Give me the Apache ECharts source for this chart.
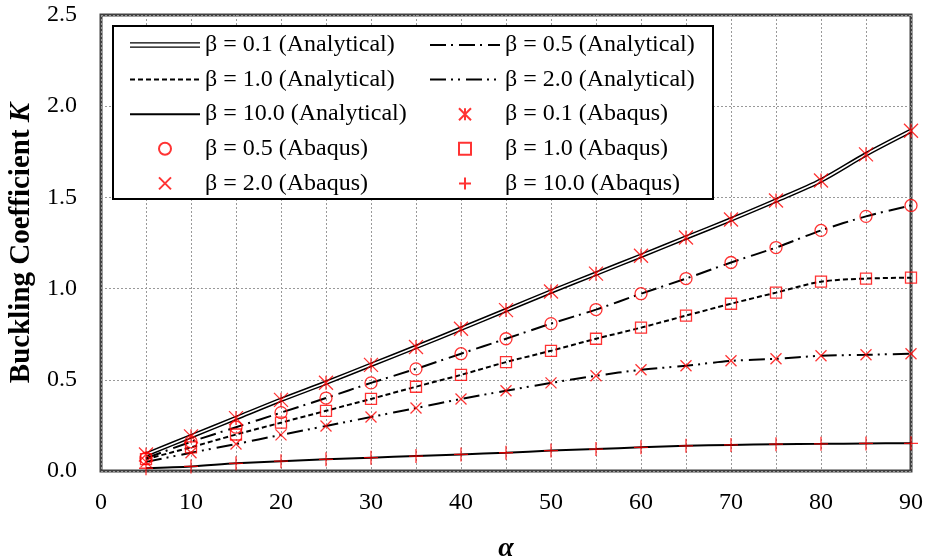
<!DOCTYPE html>
<html>
<head>
<meta charset="utf-8">
<script src="https://cdn.jsdelivr.net/npm/echarts@6/dist/echarts.min.js"></script>
<style>
  html, body { margin: 0; padding: 0; background: #fff; }
  #main { width: 925px; height: 560px; }
</style>
</head>
<body>
<div id="main"></div>
<script>
// α values (deg)
var alpha = [5, 10, 15, 20, 25, 30, 35, 40, 45, 50, 55, 60, 65, 70, 75, 80, 85, 90];

// buckling coefficient K
var k_b01  = [0.09, 0.19, 0.29, 0.39, 0.484, 0.582, 0.68, 0.78, 0.882, 0.984, 1.082, 1.18, 1.28, 1.379, 1.483, 1.593, 1.736, 1.865];
var k_b05  = [0.07, 0.16, 0.24, 0.32, 0.40, 0.483, 0.56, 0.643, 0.725, 0.808, 0.885, 0.972, 1.055, 1.143, 1.225, 1.319, 1.396, 1.456];
var k_b10  = [0.065, 0.13, 0.2, 0.265, 0.33, 0.395, 0.462, 0.527, 0.597, 0.659, 0.725, 0.786, 0.852, 0.917, 0.978, 1.038, 1.055, 1.06];
var k_b20  = [0.05, 0.10, 0.148, 0.198, 0.247, 0.296, 0.345, 0.395, 0.44, 0.483, 0.522, 0.555, 0.577, 0.604, 0.615, 0.632, 0.637, 0.643];
var k_b100 = [0.015, 0.025, 0.042, 0.054, 0.064, 0.073, 0.082, 0.091, 0.1, 0.112, 0.12, 0.13, 0.138, 0.143, 0.147, 0.149, 0.151, 0.152];

var yTicks = [0, 0.5, 1.0, 1.5, 2.0, 2.5];

var FONT = 'Liberation Serif';

function pts(arr) {
    return alpha.map(function (a, i) { return [a, arr[i]]; });
}

// marker shapes
var SYM_AST   = 'path://M0,0L10,10M10,0L0,10M5,0L5,10';
var SYM_CROSS = 'path://M0,0L10,10M10,0L0,10';
var SYM_PLUS  = 'path://M5,0L5,10M0,5L10,5';
var SYM_CIRC  = 'path://M10,5A5,5,0,1,1,0,5A5,5,0,1,1,10,5Z';
var SYM_RECT  = 'path://M0,0L10,0L10,10L0,10Z';
var ICON_DOUBLE = 'path://M0,0H70V1.4H0ZM0,4.2H70V5.6H0Z';

var DASH_05 = [16, 5, 2, 6];
var DASH_10 = [5, 3];
var DASH_20 = [16, 5, 2, 5, 2, 6];

function lineSeries(name, arr, width, type) {
    return {
        name: name, type: 'line', data: pts(arr), smooth: 0.3,
        symbol: 'none', color: '#000', z: 2,
        lineStyle: { color: '#000', width: width, type: type }
    };
}
function markSeries(name, arr, sym, size) {
    return {
        name: name, type: 'scatter', data: pts(arr), symbol: sym, symbolSize: size, z: 5,
        itemStyle: { color: 'transparent', borderColor: '#ff0000', borderWidth: 1.3 }
    };
}
// legend entry for a plain line (hide the dot ECharts puts in the middle)
function lineItem(name) {
    return { name: name, itemStyle: { opacity: 0 } };
}

var legendText = { fontFamily: FONT, fontSize: 24, color: '#000' };

var myChart = echarts.init(document.getElementById('main'));
var option = {
    animation: false,
    backgroundColor: '#fff',
    grid: {
        left: 101, right: 14, top: 15, bottom: 89, outerBoundsMode: 'none',
        show: true, borderColor: '#404040', borderWidth: 3
    },
    xAxis: {
        type: 'value', min: 0, max: 90, interval: 5,
        name: 'α', nameLocation: 'middle', nameGap: 64,
        nameTextStyle: { fontFamily: FONT, fontSize: 28, fontWeight: 'bold', fontStyle: 'italic', color: '#000' },
        axisLine: { show: false }, axisTick: { show: false },
        axisLabel: {
            margin: 20, fontFamily: FONT, fontSize: 24, color: '#000',
            formatter: function (v) { return v % 10 === 0 ? String(v) : ''; }
        },
        splitLine: { show: true, lineStyle: { color: '#999', width: 1, type: [2, 2] } }
    },
    yAxis: {
        type: 'value', min: yTicks[0], max: yTicks[yTicks.length - 1], interval: 0.5,
        name: 'Buckling Coefficient {i|K}', nameLocation: 'middle', nameGap: 60, nameRotate: 90,
        nameTextStyle: {
            fontFamily: FONT, fontSize: 29, fontWeight: 'bold', color: '#000',
            rich: { i: { fontFamily: FONT, fontSize: 29, fontWeight: 'bold', fontStyle: 'italic', color: '#000' } }
        },
        axisLine: { show: false }, axisTick: { show: false },
        axisLabel: {
            margin: 24, fontFamily: FONT, fontSize: 24, color: '#000',
            formatter: function (v) { return v.toFixed(1); }
        },
        splitLine: { show: true, lineStyle: { color: '#999', width: 1, type: [2, 2] } }
    },
    graphic: [{
        type: 'rect', left: 112, top: 25, z: 3,
        shape: { width: 600, height: 173 },
        style: { fill: '#fff', stroke: '#000', lineWidth: 2 }
    }],
    legend: [{
        orient: 'vertical', left: 129, top: 33, padding: 0,
        itemWidth: 70, itemHeight: 12, itemGap: 10.6,
        selectedMode: false, textStyle: legendText, z: 4,
        data: [
            { name: 'β = 0.1 (Analytical)', icon: ICON_DOUBLE },
            lineItem('β = 1.0 (Analytical)'), lineItem('β = 10.0 (Analytical)'),
            'β = 0.5 (Abaqus)', 'β = 2.0 (Abaqus)'
        ]
    }, {
        orient: 'vertical', left: 429, top: 33, padding: 0,
        itemWidth: 70, itemHeight: 12, itemGap: 10.6,
        selectedMode: false, textStyle: legendText, z: 4,
        data: [lineItem('β = 0.5 (Analytical)'), lineItem('β = 2.0 (Analytical)'),
               'β = 0.1 (Abaqus)', 'β = 1.0 (Abaqus)', 'β = 10.0 (Abaqus)']
    }],
    series: [
        lineSeries('β = 0.1 (Analytical)', k_b01, 4.6, 'solid'),
        {
            name: 'b01-inner', type: 'line', data: pts(k_b01), smooth: 0.3, symbol: 'none', z: 3,
            lineStyle: { color: '#fff', width: 1.6 }
        },
        lineSeries('β = 0.5 (Analytical)', k_b05, 2, DASH_05),
        lineSeries('β = 1.0 (Analytical)', k_b10, 2, DASH_10),
        lineSeries('β = 2.0 (Analytical)', k_b20, 2, DASH_20),
        lineSeries('β = 10.0 (Analytical)', k_b100, 2, 'solid'),
        markSeries('β = 0.1 (Abaqus)', k_b01, SYM_AST, 14),
        markSeries('β = 0.5 (Abaqus)', k_b05, SYM_CIRC, 12),
        markSeries('β = 1.0 (Abaqus)', k_b10, SYM_RECT, 11),
        markSeries('β = 2.0 (Abaqus)', k_b20, SYM_CROSS, 11),
        markSeries('β = 10.0 (Abaqus)', k_b100, SYM_PLUS, 14)
    ]
};
myChart.setOption(option);
</script>
</body>
</html>
